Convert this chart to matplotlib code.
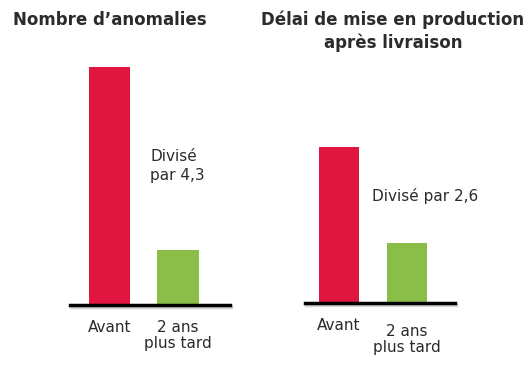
import matplotlib.pyplot as plt
import matplotlib.patheffects as pe

# données
categories = ["Avant", "2 ans\nplus tard"]
anomalies = [4.3, 1.0]
delai = [2.6, 1.0]

RED = "#E01640"
GREEN = "#8BBE49"
TXT = "#2b2b2b"
plt.rcParams['font.family'] = ['DejaVu Sans']

fig = plt.figure(figsize=(5.32, 3.77), dpi=100)

# panneau gauche
ax1 = fig.add_axes([70/532, 72/377, 160/532, 285/377])
ax1.bar([0, 1], anomalies, width=0.6, color=[RED, GREEN])
ax1.set_xlim(-0.577, 1.759)
ax1.set_ylim(0, 5.15)

# panneau droit
ax2 = fig.add_axes([305/532, 74/377, 150/532, 283/377])
ax2.bar([0, 1], delai, width=0.6, color=[RED, GREEN])
ax2.set_xlim(-0.5, 1.706)
ax2.set_ylim(0, 4.72)

# décalage vertical des libellés (en points, sous la ligne de base)
offsets = {ax1: [-16, -22], ax2: [-16.5, -26]}

for ax in (ax1, ax2):
    for s in ax.spines.values():
        s.set_visible(False)
    ax.set_yticks([])
    ax.set_xticks([])
    ax.axhline(0, color="black", lw=2.5, zorder=3, clip_on=False,
               path_effects=[pe.SimpleLineShadow(offset=(0.8, -1.2), shadow_color='gray', alpha=0.35),
                             pe.Normal()])
    for i, lab in enumerate(categories):
        ax.annotate(lab, xy=(i, 0), xytext=(0, offsets[ax][i]), textcoords='offset points',
                    ha='center', va='center', fontsize=11, color=TXT,
                    linespacing=1.1, annotation_clip=False)

# titres
fig.text(13/532, 1 - 20/377, "Nombre d’anomalies", fontsize=12, fontweight='bold',
         color=TXT, ha='left', va='center')
fig.text(393/532, 1 - 31/377, "Délai de mise en production\naprès livraison",
         fontsize=12, fontweight='bold', color=TXT, ha='center', va='center',
         linespacing=1.3)

# annotations
fig.text(150/532, 1 - 166/377, "Divisé\npar 4,3", fontsize=11, color=TXT,
         ha='left', va='center', linespacing=1.35)
fig.text(372/532, 1 - 196/377, "Divisé par 2,6", fontsize=11, color=TXT,
         ha='left', va='center')

fig.savefig("out.png", dpi=100, facecolor="white")
